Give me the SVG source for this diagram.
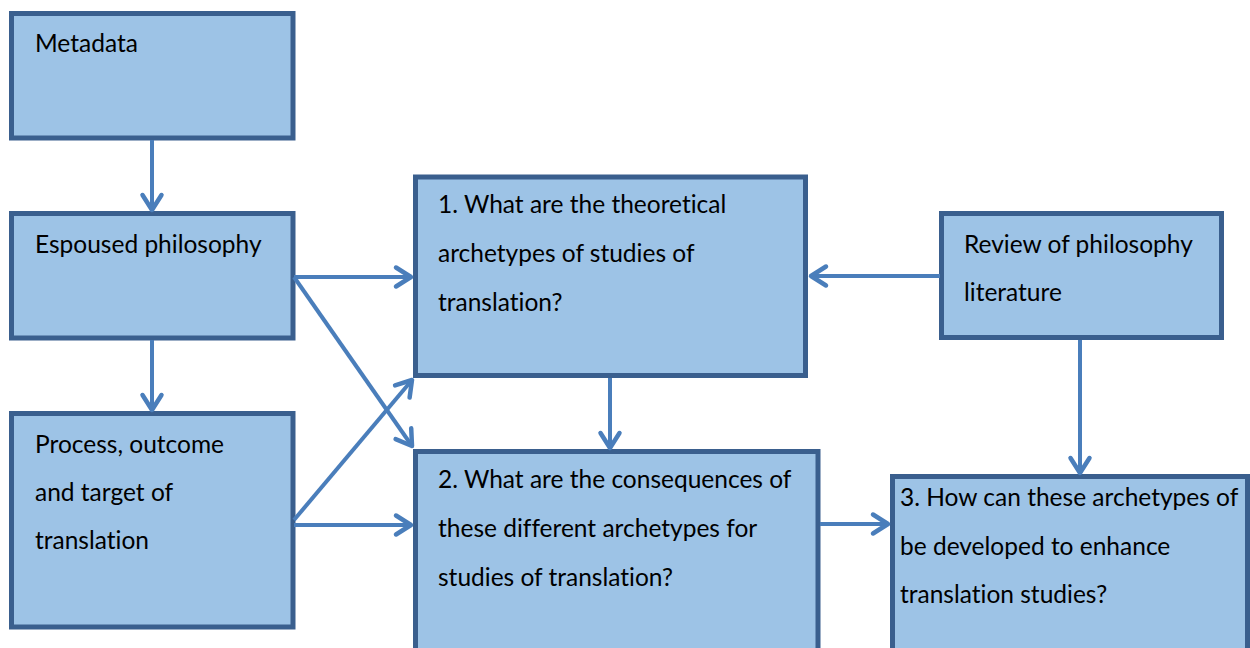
<svg xmlns="http://www.w3.org/2000/svg" width="1250" height="648" viewBox="0 0 1250 648">
<style>
.box{fill:#9DC3E6;stroke:#3A5F8E;stroke-width:5}
.t{font-family:"Lato","Open Sans","Liberation Sans",sans-serif;font-size:24.5px;fill:#000;font-variant-ligatures:none}
.c{stroke:#4A7EBB;stroke-width:4;fill:none;marker-end:url(#ah)}
</style>
<defs>
<marker id="ah" markerUnits="userSpaceOnUse" markerWidth="40" markerHeight="40" viewBox="-20 -20 40 40" refX="0" refY="0" orient="auto" overflow="visible">
<path d="M-15,-9.5 L0,0 L-15,9.5" fill="none" stroke="#4A7EBB" stroke-width="4.5" stroke-linecap="round" stroke-linejoin="round"/>
</marker>
</defs>
<rect width="1250" height="648" fill="#fff"/>
<g id="metadata"><rect class="box" x="11.5" y="13.5" width="281.5" height="124.5"/><text class="t" x="35" y="52">Metadata</text></g>
<g id="espoused"><rect class="box" x="11.5" y="213.5" width="281.5" height="124.5"/><text class="t" x="35" y="253">Espoused philosophy</text></g>
<g id="process"><rect class="box" x="11.5" y="413.5" width="281.5" height="213.5"/><text class="t" x="35" y="453">Process, outcome</text><text class="t" x="35" y="501">and target of</text><text class="t" x="35" y="549">translation</text></g>
<g id="q1"><rect class="box" x="415.5" y="177" width="390" height="198.5"/><text class="t" x="438" y="213">1. What are the theoretical</text><text class="t" x="438" y="262">archetypes of studies of</text><text class="t" x="438" y="311">translation?</text></g>
<g id="q2"><rect class="box" x="415.5" y="451.5" width="402.5" height="210"/><text class="t" x="438" y="488">2. What are the consequences of</text><text class="t" x="438" y="537">these different archetypes for</text><text class="t" x="438" y="586">studies of translation?</text></g>
<g id="review"><rect class="box" x="941.5" y="213.5" width="280" height="124"/><text class="t" x="964" y="253">Review of philosophy</text><text class="t" x="964" y="301">literature</text></g>
<g id="q3"><rect class="box" x="892.5" y="476.5" width="355" height="185"/><text class="t" x="900" y="506">3. How can these archetypes of</text><text class="t" x="900" y="555">be developed to enhance</text><text class="t" x="900" y="603">translation studies?</text></g>
<g id="connectors">
<path class="c" d="M152,140 L152,210"/>
<path class="c" d="M152,340 L152,410"/>
<path class="c" d="M294,277 L411,277"/>
<path class="c" d="M294,277 L412,446"/>
<path class="c" d="M294,520 L412,380"/>
<path class="c" d="M294,525 L411,525"/>
<path class="c" d="M610,378 L610,448"/>
<path class="c" d="M940,276 L811,276"/>
<path class="c" d="M1080,340 L1080,473"/>
<path class="c" d="M820,524 L888,524"/>
</g>
</svg>
